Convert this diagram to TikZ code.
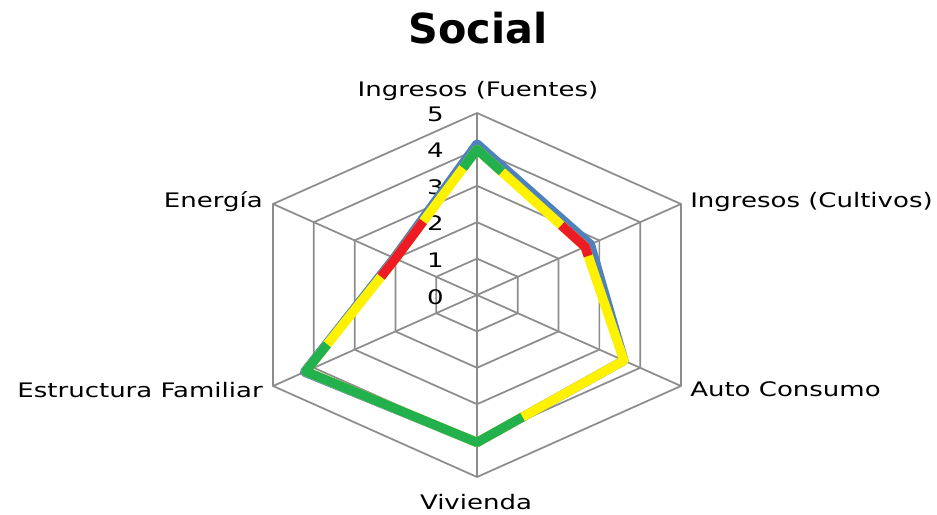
\documentclass[tikz,border=0pt]{standalone}
\usepackage{fontspec}
\setmainfont{DejaVu Sans}
\newfontfamily\chartfont{DejaVu Sans}[FakeStretch=1.3]
\usetikzlibrary{calc}
\definecolor{gridgray}{RGB}{140,140,140}
\definecolor{serieblue}{RGB}{79,129,189}
\definecolor{seriered}{RGB}{237,28,36}
\definecolor{serieyellow}{RGB}{255,242,0}
\definecolor{seriegreen}{RGB}{34,177,76}
\def\rx{47.1}
\def\ry{36.4}

\begin{document}
\begin{tikzpicture}[x=0.75pt,y=0.75pt,yscale=-1,xscale=1,
  radargrid/.style={draw=gridgray,line width=1.3pt},
  serie/.style={line width=7pt,line join=round},
  axislabel/.style={font=\chartfont\fontsize{15}{18}\selectfont,inner sep=0pt},
  ticklabel/.style={font=\chartfont\fontsize{15}{18}\selectfont,inner sep=0pt,anchor=base east}]
    \useasboundingbox (0,0) rectangle (937,514);

    %Shape: Radar grid
    \begin{scope}[shift={(477,295)},yscale=-1]
    \foreach \r in {1,...,5}
      \draw [radargrid] (90:{\rx*\r} and {\ry*\r}) \foreach \a in {30,-30,-90,-150,150} {-- (\a:{\rx*\r} and {\ry*\r})} -- cycle ;
    \foreach \a in {90,30,-30,-90,-150,150}
      \draw [radargrid] (0,0) -- (\a:{\rx*5} and {\ry*5}) ;

    % Text Node
    \foreach \v in {0,...,5}
      \node (tick\v) [ticklabel] at (-33,{-9+\v*36.6}) {\v};

    %Data points
    \coordinate (bF) at (90:{\rx*4.15} and {\ry*4.15});
    \coordinate (bC) at (30:{\rx*2.78} and {\ry*2.78});
    \coordinate (bA) at (-30:{\rx*3.6} and {\ry*3.6});
    \coordinate (bV) at (-90:{\rx*4.05} and {\ry*4.05});
    \coordinate (bE) at (-150:{\rx*4.23} and {\ry*4.23});
    \coordinate (bN) at (150:{\rx*2.03} and {\ry*2.03});
    \coordinate (pF) at (90:{\rx*4} and {\ry*4});
    \coordinate (pC) at (30:{\rx*2.65} and {\ry*2.65});
    \coordinate (pA) at (-30:{\rx*3.6} and {\ry*3.6});
    \coordinate (pV) at (-90:{\rx*4.05} and {\ry*4.05});
    \coordinate (pE) at (-150:{\rx*4.2} and {\ry*4.2});
    \coordinate (pN) at (150:{\rx*2} and {\ry*2});

    %Lines: series
    \draw [serie,serieblue] (bF) -- (bC) -- (bA) -- (bV) -- (bE) -- (bN) -- cycle ;
    \draw [serie,serieyellow] (pF) -- (pC) -- (pA) -- (pV) -- (pE) -- (pN) -- cycle ;
    \draw [serie,seriered] ($(pF)!0.78!(pC)$) -- (pC) -- ($(pC)!0.08!(pA)$) ;
    \draw [serie,seriered] ($(pE)!0.84!(pN)$) -- (pN) -- ($(pN)!0.34!(pF)$) ;
    \draw [serie,seriegreen] ($(pN)!0.83!(pF)$) -- (pF) -- ($(pF)!0.23!(pC)$) ;
    \draw [serie,seriegreen] ($(pA)!0.69!(pV)$) -- (pV) -- (pE) -- ($(pE)!0.24!(pN)$) ;
    \end{scope}

    % Text Node
    \node (title) [anchor=base,inner sep=0pt,font=\bfseries\fontsize{31}{36}\selectfont] at (478,43) {Social};
    % Text Node
    \node (fuentes) [axislabel,anchor=base] at (478,96) {Ingresos (Fuentes)};
    % Text Node
    \node (cultivos) [axislabel,anchor=base west] at (690,207) {Ingresos (Cultivos)};
    % Text Node
    \node (consumo) [axislabel,anchor=base west] at (690,396) {Auto Consumo};
    % Text Node
    \node (vivienda) [axislabel,anchor=base] at (476,509) {Vivienda};
    % Text Node
    \node (familiar) [axislabel,anchor=base east] at (263,397) {Estructura Familiar};
    % Text Node
    \node (energia) [axislabel,anchor=base east] at (263,207) {Energía};

\end{tikzpicture}
\end{document}
